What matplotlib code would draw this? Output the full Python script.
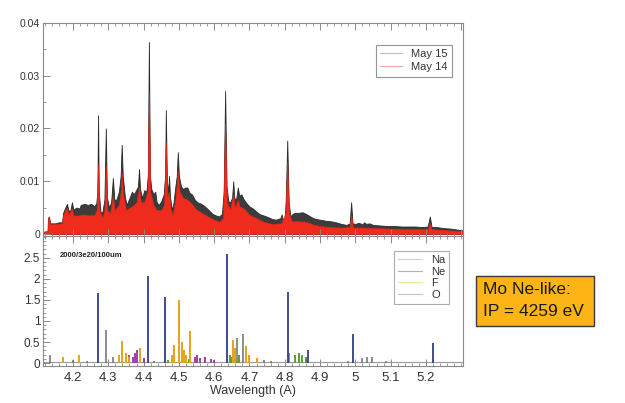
import matplotlib
matplotlib.use("Agg")
import matplotlib.pyplot as plt
from matplotlib.lines import Line2D
from matplotlib.patches import Rectangle
from matplotlib.ticker import MultipleLocator

plt.rcParams['font.family'] = ['Liberation Sans', 'DejaVu Sans']

# ---- measured spectra (wavelength in A, intensity) ----
may15_wl = [4.115, 4.128, 4.129, 4.132, 4.135, 4.150, 4.160, 4.169, 4.172, 4.178,
            4.183, 4.187, 4.192, 4.197, 4.201, 4.210, 4.218, 4.222, 4.232, 4.242,
            4.252, 4.260, 4.266, 4.269, 4.271, 4.273, 4.278, 4.283, 4.289, 4.293,
            4.296, 4.302, 4.308, 4.313, 4.317, 4.323, 4.330, 4.335, 4.338, 4.341,
            4.347, 4.352, 4.360, 4.367, 4.372, 4.378, 4.384, 4.387, 4.390, 4.396,
            4.402, 4.408, 4.412, 4.415, 4.418, 4.422, 4.428, 4.433, 4.437, 4.443,
            4.450, 4.457, 4.461, 4.463, 4.466, 4.470, 4.472, 4.475, 4.480, 4.485,
            4.490, 4.494, 4.497, 4.500, 4.506, 4.512, 4.518, 4.524, 4.530, 4.537,
            4.545, 4.552, 4.560, 4.568, 4.577, 4.585, 4.595, 4.605, 4.614, 4.622,
            4.627, 4.631, 4.635, 4.640, 4.646, 4.651, 4.654, 4.657, 4.662, 4.667,
            4.671, 4.677, 4.684, 4.692, 4.700, 4.710, 4.720, 4.730, 4.740, 4.752,
            4.765, 4.775, 4.788, 4.791, 4.795, 4.800, 4.803, 4.807, 4.811, 4.816,
            4.822, 4.830, 4.840, 4.850, 4.860, 4.870, 4.880, 4.890, 4.900, 4.915,
            4.930, 4.945, 4.960, 4.975, 4.984, 4.988, 4.992, 5.000, 5.010, 5.020,
            5.025, 5.030, 5.040, 5.050, 5.070, 5.090, 5.110, 5.130, 5.150, 5.170,
            5.190, 5.205, 5.211, 5.216, 5.230, 5.250, 5.270, 5.290, 5.305]
may15_int = [0.0004, 0.0005, 0.0030, 0.0033, 0.0020, 0.0020, 0.0022, 0.0022, 0.0040, 0.0050,
             0.0057, 0.0045, 0.0043, 0.0060, 0.0046, 0.0050, 0.0048, 0.0055, 0.0057, 0.0055,
             0.0057, 0.0052, 0.0058, 0.0080, 0.0225, 0.0080, 0.0042, 0.0040, 0.0065, 0.0200,
             0.0070, 0.0050, 0.0060, 0.0106, 0.0065, 0.0065, 0.0080, 0.0110, 0.0169, 0.0110,
             0.0070, 0.0055, 0.0068, 0.0080, 0.0075, 0.0082, 0.0090, 0.0123, 0.0085, 0.0068,
             0.0083, 0.0080, 0.0110, 0.0364, 0.0110, 0.0085, 0.0075, 0.0080, 0.0060, 0.0055,
             0.0062, 0.0075, 0.0110, 0.0235, 0.0100, 0.0080, 0.0110, 0.0070, 0.0045, 0.0060,
             0.0090, 0.0110, 0.0155, 0.0110, 0.0090, 0.0085, 0.0088, 0.0088, 0.0078, 0.0075,
             0.0065, 0.0060, 0.0058, 0.0055, 0.0050, 0.0045, 0.0038, 0.0035, 0.0033, 0.0038,
             0.0080, 0.0271, 0.0090, 0.0062, 0.0060, 0.0070, 0.0100, 0.0068, 0.0065, 0.0088,
             0.0072, 0.0075, 0.0065, 0.0058, 0.0052, 0.0048, 0.0042, 0.0037, 0.0035, 0.0032,
             0.0028, 0.0027, 0.0030, 0.0037, 0.0025, 0.0028, 0.0070, 0.0177, 0.0060, 0.0033,
             0.0038, 0.0040, 0.0040, 0.0041, 0.0038, 0.0034, 0.0030, 0.0028, 0.0027, 0.0025,
             0.0024, 0.0022, 0.0019, 0.0017, 0.0020, 0.0060, 0.0020, 0.0019, 0.0021, 0.0018,
             0.0022, 0.0019, 0.0020, 0.0017, 0.0016, 0.0015, 0.0015, 0.0014, 0.0014, 0.0014,
             0.0013, 0.0014, 0.0033, 0.0013, 0.0013, 0.0011, 0.0010, 0.0008, 0.0007]

may14_wl = [4.115, 4.128, 4.129, 4.132, 4.135, 4.150, 4.169, 4.172, 4.178, 4.183,
            4.187, 4.197, 4.201, 4.215, 4.230, 4.245, 4.260, 4.267, 4.271, 4.275,
            4.283, 4.289, 4.293, 4.297, 4.305, 4.313, 4.318, 4.330, 4.335, 4.338,
            4.342, 4.350, 4.362, 4.372, 4.380, 4.387, 4.392, 4.402, 4.411, 4.415,
            4.419, 4.428, 4.437, 4.450, 4.458, 4.463, 4.467, 4.472, 4.476, 4.482,
            4.490, 4.497, 4.502, 4.512, 4.522, 4.535, 4.550, 4.565, 4.580, 4.600,
            4.615, 4.625, 4.631, 4.636, 4.645, 4.654, 4.658, 4.667, 4.672, 4.685,
            4.700, 4.720, 4.740, 4.765, 4.790, 4.802, 4.807, 4.812, 4.820, 4.840,
            4.860, 4.880, 4.900, 4.930, 4.960, 4.984, 4.988, 4.993, 5.020, 5.060,
            5.100, 5.150, 5.205, 5.211, 5.216, 5.260, 5.305]
may14_int = [0.0004, 0.0005, 0.0030, 0.0033, 0.0018, 0.0019, 0.0020, 0.0035, 0.0045, 0.0050,
             0.0036, 0.0048, 0.0035, 0.0035, 0.0037, 0.0035, 0.0036, 0.0045, 0.0133, 0.0045,
             0.0030, 0.0045, 0.0130, 0.0045, 0.0040, 0.0073, 0.0045, 0.0055, 0.0080, 0.0117,
             0.0075, 0.0045, 0.0050, 0.0055, 0.0060, 0.0090, 0.0060, 0.0060, 0.0080, 0.0270,
             0.0080, 0.0055, 0.0045, 0.0045, 0.0055, 0.0175, 0.0070, 0.0080, 0.0050, 0.0035,
             0.0065, 0.0120, 0.0080, 0.0068, 0.0066, 0.0058, 0.0046, 0.0040, 0.0034, 0.0027,
             0.0023, 0.0030, 0.0210, 0.0060, 0.0046, 0.0075, 0.0050, 0.0065, 0.0052, 0.0048,
             0.0036, 0.0030, 0.0023, 0.0019, 0.0020, 0.0040, 0.0137, 0.0040, 0.0024, 0.0024,
             0.0023, 0.0018, 0.0015, 0.0013, 0.0012, 0.0013, 0.0036, 0.0012, 0.0012, 0.0011,
             0.0010, 0.0009, 0.0009, 0.0021, 0.0009, 0.0007, 0.0005]

# ---- modelled line strengths by ionisation stage ----
ne_wl = [4.272, 4.413, 4.461, 4.635, 4.810, 4.866, 4.993, 5.220]
ne_int = [1.66, 2.08, 1.57, 2.60, 1.69, 0.30, 0.69, 0.47]

na_wl = [4.135, 4.200, 4.240, 4.293, 4.312, 4.560, 4.590, 4.666, 4.683, 4.740,
         4.760, 4.812, 4.860, 4.980, 5.018, 5.033, 5.047, 5.087]
na_int = [0.18, 0.08, 0.06, 0.78, 0.15, 0.05, 0.06, 0.60, 0.70, 0.08,
          0.06, 0.25, 0.10, 0.05, 0.12, 0.14, 0.15, 0.05]

f_wl = [4.172, 4.218, 4.330, 4.338, 4.350, 4.360, 4.390, 4.480, 4.485, 4.500,
        4.508, 4.515, 4.520, 4.531, 4.654, 4.660, 4.690, 4.700, 4.720]
f_int = [0.15, 0.20, 0.20, 0.53, 0.25, 0.15, 0.35, 0.20, 0.44, 1.51,
         0.50, 0.30, 0.20, 0.77, 0.55, 0.35, 0.40, 0.20, 0.12]

o_wl = [4.360, 4.370, 4.375, 4.380, 4.400, 4.545, 4.550, 4.560, 4.575, 4.590, 4.600]
o_int = [0.20, 0.15, 0.25, 0.30, 0.12, 0.15, 0.18, 0.12, 0.15, 0.10, 0.08]

other_wl = [4.430, 4.470, 4.530, 4.645, 4.650, 4.660, 4.670, 4.830, 4.840, 4.850, 4.860]
other_int = [0.06, 0.08, 0.10, 0.20, 0.15, 0.12, 0.18, 0.20, 0.25, 0.18, 0.15]

baseline_level = 0.02

# ---- figure layout ----
fig = plt.figure(figsize=(6.25, 4.03), dpi=100)
W, H = 625, 403
x0, x1 = 43, 463
ax_top = fig.add_axes([x0 / W, 1 - 236 / H, (x1 - x0) / W, (236 - 23) / H])
ax_bot = fig.add_axes([x0 / W, 1 - 366 / H, (x1 - x0) / W, (366 - 236) / H])

spine_col = '#8a8a8a'
label_col = '#333333'
xlim = (4.115, 5.305)

for ax in (ax_top, ax_bot):
    ax.set_xlim(*xlim)
    for s in ax.spines.values():
        s.set_color(spine_col)
        s.set_linewidth(0.8)
    ax.xaxis.set_major_locator(MultipleLocator(0.1))
    ax.xaxis.set_minor_locator(MultipleLocator(0.02))
    ax.tick_params(which='both', direction='in', top=True, bottom=True,
                   left=True, right=False, color=spine_col, labelcolor=label_col)
    ax.tick_params(which='major', length=5, width=0.7)
    ax.tick_params(which='minor', length=2.5, width=0.6)

# top: measured spectra
ax_top.fill_between(may15_wl, 0, may15_int, color='#3c3c3c', lw=0.6, edgecolor='#2a2a2a')
ax_top.fill_between(may14_wl, 0, may14_int, color='#ee2b1c', lw=0.4, edgecolor='#e02518')
ax_top.set_ylim(-0.0004, 0.04)
ax_top.yaxis.set_minor_locator(MultipleLocator(0.005))
ax_top.set_yticks([0, 0.01, 0.02, 0.03, 0.04])
ax_top.set_yticklabels(['0', '0.01', '0.02', '0.03', '0.04'])
ax_top.tick_params(axis='y', labelsize=7.5, pad=2)
ax_top.tick_params(axis='x', labelbottom=False)

top_handles = [Line2D([], [], color='#bdbdbd', lw=0.8),
               Line2D([], [], color='#f2a5a5', lw=0.8)]
leg1 = ax_top.legend(top_handles, ['May 15', 'May 14'], loc='upper right',
                     bbox_to_anchor=(0.974, 0.897), borderaxespad=0, fontsize=8,
                     frameon=True, fancybox=False, handlelength=2.0, handletextpad=0.8,
                     borderpad=0.4, labelspacing=0.25, labelcolor=label_col)
leg1.get_frame().set_edgecolor('#7a7a7a')
leg1.get_frame().set_linewidth(0.8)

# bottom: ionisation-stage line lists
ax_bot.plot(xlim, [baseline_level, baseline_level], color='#9a9a9a', lw=0.8)
ax_bot.vlines(other_wl, 0, other_int, color='#5c9e35', lw=1.4)
ax_bot.vlines(o_wl, 0, o_int, color='#a23ea8', lw=1.4)
ax_bot.vlines(f_wl, 0, f_int, color='#e5a21c', lw=1.4)
ax_bot.vlines(na_wl, 0, na_int, color='#6e6e6e', lw=1.1)
ax_bot.vlines(ne_wl, 0, ne_int, color='#2e3d8f', lw=1.3)
ax_bot.set_ylim(-0.07, 3.02)
ax_bot.set_yticks([0, 0.5, 1, 1.5, 2, 2.5])
ax_bot.set_yticklabels(['0', '0.5', '1', '1.5', '2', '2.5'])
ax_bot.yaxis.set_minor_locator(MultipleLocator(0.1))
ax_bot.tick_params(axis='y', labelsize=8.5, pad=2)
ax_bot.set_xticks([4.2, 4.3, 4.4, 4.5, 4.6, 4.7, 4.8, 4.9, 5.0, 5.1, 5.2])
ax_bot.set_xticklabels(['4.2', '4.3', '4.4', '4.5', '4.6', '4.7', '4.8', '4.9', '5', '5.1', '5.2'])
ax_bot.tick_params(axis='x', labelsize=9.5, pad=4)
ax_bot.set_xlabel('Wavelength (A)', fontsize=9, color=label_col, labelpad=1)
ax_bot.text(0.04, 0.85, '2000/3e20/100um', transform=ax_bot.transAxes,
            fontsize=5.5, fontweight='bold', color='#222222', va='center')

bot_handles = [Line2D([], [], color='#cfcfcf', lw=0.8),
               Line2D([], [], color='#aab3d6', lw=0.8),
               Line2D([], [], color='#f3e2a6', lw=0.8),
               Line2D([], [], color='#c9bdd6', lw=0.8)]
leg2 = ax_bot.legend(bot_handles, ['Na', 'Ne', 'F', 'O'], loc='upper right',
                     bbox_to_anchor=(0.967, 0.885), borderaxespad=0, fontsize=8,
                     frameon=True, fancybox=False, handlelength=2.2, handletextpad=0.8,
                     borderpad=0.35, labelspacing=0.15, labelcolor=label_col)
leg2.get_frame().set_edgecolor('#9a9a9a')
leg2.get_frame().set_linewidth(0.8)

# ion info box
fig.patches.append(Rectangle((476 / W, 1 - 326 / H), (594 - 476) / W, (326 - 276) / H,
                             transform=fig.transFigure, facecolor='#fdb515',
                             edgecolor='#3a3a3a', lw=1.0))
fig.text(483 / W, 1 - 290 / H, 'Mo Ne-like:', fontsize=12.5, color='#1a1a1a', va='center')
fig.text(483 / W, 1 - 312 / H, 'IP = 4259 eV', fontsize=12.5, color='#1a1a1a', va='center')

fig.savefig('out.png', dpi=100)
